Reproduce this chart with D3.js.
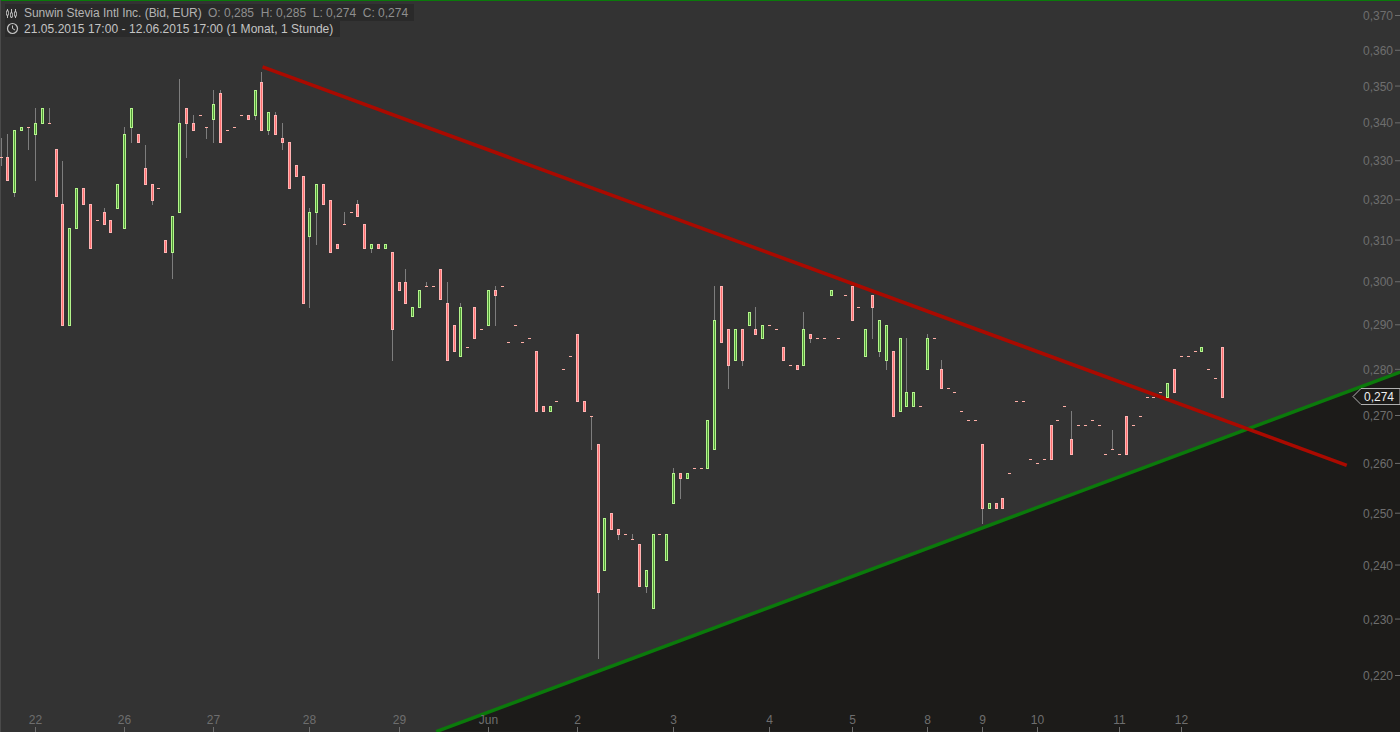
<!DOCTYPE html>
<html>
<head>
<meta charset="utf-8">
<script src="https://cdn.jsdelivr.net/npm/d3@7"></script>
<style>
    html, body { margin: 0; padding: 0; background: #333333; overflow: hidden; }
    text { font-family: "Liberation Sans", sans-serif; font-size: 12px; }
</style>
</head>
<body>
<div id="chart"></div>
<script>
let opens = [
    .331,.331,.322,.338,.339,.337,.340,.340,.333,.319,
    .290,.313,.323,.319,.315,.317,.315,.318,.313,.339,
    .337,.328,.324,.323,.310,.307,.317,.344,.340,.342,
    .339,.341,.348,.338,.339,.342,.342,.342,.351,.338,
    .342,.336,.335,.329,.326,.311,.317,.324,.320,.309,
    .314,.317,.319,.314,.308,.309,.308,.307,.300,.300,
    .292,.294,.299,.299,.303,.295,.290,.283,.285,.294,
    .289,.290,.298,.299,.286,.290,.286,.287,.284,.272,
    .271,.273,.280,.283,.288,.273,.270,.264,.239,.250,
    .247,.246,.245,.244,.236,.232,.246,.241,.252,.258,
    .257,.259,.259,.259,.263,.299,.289,.282,.289,.290,
    .289,.287,.290,.289,.285,.281,.281,.281,.288,.287,
    .287,.297,.287,.297,.299,.294,.283,.297,.284,.282,
    .284,.271,.272,.272,.272,.280,.287,.280,.276,.275,
    .271,.269,.269,.264,.251,.252,.253,.258,.273,.273,
    .261,.260,.261,.268,.269,.272,.265,.268,.268,.269,
    .268,.262,.263,.262,.270,.268,.270,.274,.274,.275,
    .274,.280,.283,.283,.284,.284,.280,.278,.285
];
let highs = [
    .336,.337,.338,.339,.339,.344,.344,.344,.333,.330,
    .313,.323,.323,.319,.315,.318,.315,.324,.339,.344,
    .337,.334,.324,.323,.310,.316,.352,.344,.342,.342,
    .339,.349,.349,.338,.339,.342,.342,.349,.354,.343,
    .343,.340,.335,.329,.326,.318,.324,.324,.320,.309,
    .317,.317,.320,.314,.309,.309,.309,.307,.300,.303,
    .294,.298,.300,.299,.303,.300,.290,.295,.285,.294,
    .289,.298,.299,.299,.286,.290,.286,.287,.284,.272,
    .272,.273,.280,.283,.288,.273,.270,.264,.249,.250,
    .247,.246,.246,.244,.239,.246,.246,.246,.259,.258,
    .258,.259,.259,.269,.299,.299,.289,.289,.289,.293,
    .294,.290,.290,.289,.285,.281,.281,.293,.288,.287,
    .287,.298,.287,.297,.299,.294,.289,.297,.291,.290,
    .284,.287,.287,.275,.272,.288,.287,.282,.276,.275,
    .271,.269,.269,.264,.252,.252,.253,.258,.273,.273,
    .261,.260,.261,.268,.269,.272,.271,.268,.268,.269,
    .268,.262,.267,.262,.270,.268,.270,.274,.274,.275,
    .277,.280,.283,.283,.284,.285,.280,.278,.285
];
let lows = [
    .329,.325,.321,.338,.333,.325,.340,.340,.321,.290,
    .290,.313,.319,.308,.315,.314,.312,.318,.313,.335,
    .335,.324,.319,.323,.307,.301,.317,.331,.338,.342,
    .336,.335,.335,.338,.339,.342,.341,.341,.338,.337,
    .337,.333,.323,.326,.295,.294,.309,.319,.307,.308,
    .314,.317,.316,.308,.307,.308,.308,.282,.298,.295,
    .292,.294,.299,.299,.296,.282,.284,.283,.285,.287,
    .289,.290,.290,.299,.286,.290,.286,.287,.271,.271,
    .271,.273,.280,.283,.273,.271,.263,.223,.239,.247,
    .245,.246,.245,.236,.235,.232,.246,.241,.252,.253,
    .257,.259,.259,.259,.263,.286,.276,.282,.281,.290,
    .288,.287,.290,.289,.282,.281,.280,.281,.286,.287,
    .287,.297,.287,.297,.291,.294,.283,.287,.283,.280,
    .270,.271,.272,.272,.272,.280,.287,.276,.276,.275,
    .271,.269,.269,.248,.251,.251,.251,.258,.273,.273,
    .261,.260,.261,.261,.269,.272,.262,.268,.268,.269,
    .268,.262,.263,.262,.262,.268,.270,.274,.274,.275,
    .274,.275,.283,.283,.284,.284,.280,.278,.274
];
let closes = [
    .331,.325,.338,.339,.339,.340,.344,.340,.321,.290,
    .313,.323,.319,.308,.315,.314,.312,.324,.337,.344,
    .335,.324,.320,.323,.307,.316,.340,.340,.338,.342,
    .339,.345,.335,.338,.339,.342,.341,.349,.338,.343,
    .337,.335,.323,.326,.295,.317,.324,.319,.307,.308,
    .314,.317,.316,.308,.309,.308,.309,.289,.298,.295,
    .294,.298,.299,.299,.296,.282,.284,.294,.285,.287,
    .289,.298,.297,.299,.286,.290,.286,.287,.271,.271,
    .272,.273,.280,.283,.273,.271,.270,.235,.249,.247,
    .246,.246,.245,.236,.239,.246,.246,.246,.258,.257,
    .258,.259,.259,.269,.291,.286,.281,.289,.282,.293,
    .288,.290,.290,.289,.282,.281,.280,.289,.287,.287,
    .287,.298,.287,.297,.291,.294,.289,.294,.291,.290,
    .270,.287,.275,.275,.272,.287,.287,.276,.276,.275,
    .271,.269,.269,.251,.252,.251,.251,.258,.273,.273,
    .261,.260,.261,.261,.269,.272,.262,.268,.268,.269,
    .268,.262,.263,.262,.262,.268,.270,.274,.274,.275,
    .277,.275,.283,.283,.284,.285,.280,.278,.274
];

let priceTicks = [.37,.36,.35,.34,.33,.32,.31,.30,.29,.28,.27,.26,.25,.24,.23,.22];
let dateTicks = [5,18,31,45,58,71,84,98,112,124,135,143,151,163,172];
let dateLabels = ["22","26","27","28","29","Jun","2","3","4","5","8","9","10","11","12"];

// trend lines, [candle index, price]
let redLine = [[38.1,.3552],[196.1,.2595]];
let greenLine = [[63.4,.2104],[203.9,.2793]];

let lastPrice = .274;
let titleText = "Sunwin Stevia Intl Inc. (Bid, EUR)";
let ohlcText = "O: 0,285  H: 0,285  L: 0,274  C: 0,274";
let rangeText = "21.05.2015 17:00 - 12.06.2015 17:00 (1 Monat, 1 Stunde)";

let width = 1400, height = 732;
let svg = d3.select("#chart").append("svg")
    .attr("width", width)
    .attr("height", height)
    .style("display", "block");

let x = d3.scaleLinear().domain([0, 178]).range([1.12, 1222.56]);
let y = d3.scaleLog().domain([.22, .37]).range([675, 15]);
let fmt = d3.formatLocale({decimal: ",", thousands: ".", grouping: [3], currency: ["", "€"]}).format(".3f");

svg.append("rect").attr("width", width).attr("height", height).attr("fill", "#333333");

// dark area below the support line
let area = greenLine.map(d => [x(d[0]), y(d[1])]);
area.push([width, height]);
svg.append("path")
    .attr("d", d3.line()(area) + "Z")
    .attr("fill", "#1c1b19");

// frame
svg.append("rect").attr("x", 0).attr("y", 0).attr("width", width).attr("height", 1).attr("fill", "#0a7a0a");
svg.append("rect").attr("x", 0).attr("y", 0).attr("width", 1).attr("height", height).attr("fill", "#4a4a4a");

let trend = d3.line().x(d => x(d[0])).y(d => y(d[1]));
svg.append("path").attr("d", trend(greenLine)).attr("fill", "none").attr("stroke", "#0b7a0b").attr("stroke-width", 3.4);
svg.append("path").attr("d", trend(redLine)).attr("fill", "none").attr("stroke", "#aa0a00").attr("stroke-width", 3.6);

// candles, snapped to whole pixels
let py = p => Math.round(y(p) + 0.5);
let candles = svg.append("g");
opens.forEach(function(o, i) {
    let c = closes[i];
    let cx = Math.floor(x(i));
    let up = c > o;
    let edge = up ? "#b4f58c" : "#ffb4b4";
    let core = up ? "#4f9a35" : "#ff7070";
    let top = py(Math.max(o, c));
    let bottom = py(Math.min(o, c));

    candles.append("rect")
        .attr("x", cx)
        .attr("y", py(highs[i]))
        .attr("width", 1)
        .attr("height", py(lows[i]) - py(highs[i]) + 1)
        .attr("fill", "#7d7d7d");

    if (o == c) {
        candles.append("rect")
            .attr("x", cx - 1).attr("y", top)
            .attr("width", 3).attr("height", 1)
            .attr("fill", "#ffb0a8");
    } else {
        candles.append("rect")
            .attr("x", cx - 1).attr("y", top)
            .attr("width", 3).attr("height", bottom - top + 1)
            .attr("fill", edge);
        candles.append("rect")
            .attr("x", cx).attr("y", top + 1)
            .attr("width", 1).attr("height", Math.max(bottom - top - 1, 0))
            .attr("fill", core);
    }
});

// axes
let yAxis = d3.axisLeft(y)
    .tickValues(priceTicks)
    .tickFormat(fmt)
    .tickSize(5)
    .tickPadding(2);
let yG = svg.append("g").attr("transform", "translate(" + width + ",0)").call(yAxis);
yG.selectAll("text").attr("dy", "4.6px");

let xAxis = d3.axisTop(x)
    .tickValues(dateTicks)
    .tickFormat((d, i) => dateLabels[i])
    .tickSize(5)
    .tickPadding(3);
let xG = svg.append("g").attr("transform", "translate(0," + height + ")").call(xAxis);
// snap the date ticks onto the candle pixel
xG.selectAll(".tick").attr("transform", d => "translate(" + (Math.floor(x(d)) + 0.5) + ",0)");

[yG, xG].forEach(function(g) {
    g.select(".domain").remove();
    g.selectAll("line").attr("stroke", "#6e6e6e");
    g.selectAll("text").attr("fill", "#6e6e6e").style("font-size", "12px");
});

// last price marker
let ly = Math.round(y(lastPrice)) + 0.5;
svg.append("path")
    .attr("d", d3.line()([[1353, ly], [1361, ly - 8], [1400, ly - 8], [1400, ly + 8], [1361, ly + 8]]) + "Z")
    .attr("fill", "#1c1b19")
    .attr("stroke", "#b0b0b0");
svg.append("text")
    .attr("x", 1394).attr("y", ly + 4.5)
    .attr("text-anchor", "end")
    .attr("fill", "#eeeeee")
    .text(fmt(lastPrice));

// header
svg.append("rect").attr("x", 5).attr("y", 4).attr("width", 409).attr("height", 17).attr("fill", "#2a2a2a");
svg.append("rect").attr("x", 5).attr("y", 21).attr("width", 335).attr("height", 16).attr("fill", "#2a2a2a");

svg.append("text").attr("x", 24).attr("y", 17).attr("fill", "#b4b4b4").style("letter-spacing", "-0.03px").text(titleText);
svg.append("text").attr("x", 208).attr("y", 17).attr("fill", "#8f8f8f").style("white-space", "pre").text(ohlcText);
svg.append("text").attr("x", 24).attr("y", 33).attr("fill", "#c4c4c4").style("letter-spacing", "0.045px").text(rangeText);

// candle icon
[[7.5, 9, 18, 11, 15], [11.5, 9, 18, 13, 17], [15.5, 9, 18, 12, 16]].forEach(function(d) {
    svg.append("line").attr("x1", d[0]).attr("x2", d[0]).attr("y1", d[1]).attr("y2", d[2]).attr("stroke", "#c0c0c0");
    svg.append("rect").attr("x", d[0] - 1).attr("y", d[3]).attr("width", 2).attr("height", d[4] - d[3]).attr("fill", "#2a2a2a").attr("stroke", "#c0c0c0").attr("stroke-width", 0.8);
});
// clock icon
svg.append("circle").attr("cx", 12.5).attr("cy", 28.5).attr("r", 5).attr("fill", "none").attr("stroke", "#c4c4c4").attr("stroke-width", 1.2);
svg.append("path").attr("d", "M12.5,25.5V28.5L15,30").attr("fill", "none").attr("stroke", "#c4c4c4");
</script>
</body>
</html>
